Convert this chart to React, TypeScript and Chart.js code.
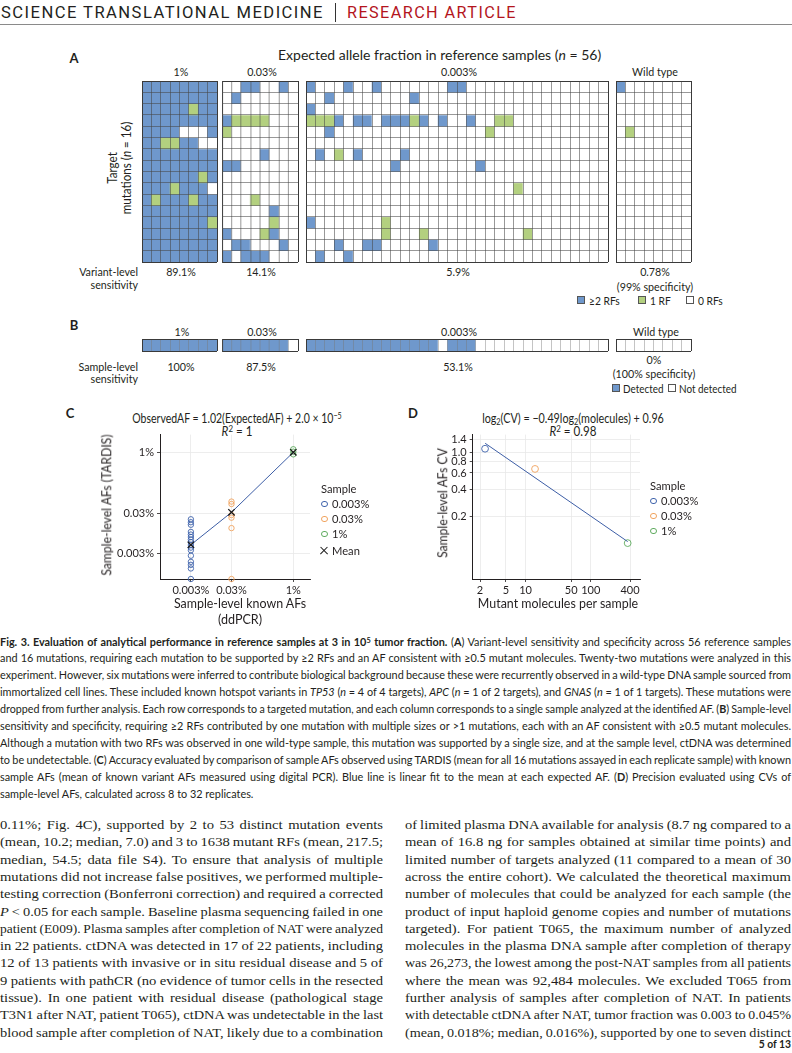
import React, { useEffect, useLayoutEffect, useRef } from 'react';
import { Chart, registerables } from 'chart.js';
Chart.register(...registerables);

/* ======================= DATA ======================= */
const groupLabels = ['1%', '0.03%', '0.003%', 'Wild type'];
const variantLevel = ['89.1%', '14.1%', '5.9%', '0.78%'];
const sampleLevel = ['100%', '87.5%', '53.1%', '0%'];

// Panel A: one string per target mutation (16 rows), one character per reference sample.
// 2 = ≥2 RFs, 1 = 1 RF, 0 = 0 RFs
const cellsA_1pct = [
  '22222222', '22222222', '22222122', '22222222', '22220002', '22112200', '22222222', '22222222',
  '22222212', '22212220', '21222122', '22222222', '22222221', '22222222', '22222222', '22222222',
];
const cellsA_003pct = [
  '00220020', '02000000', '00000000', '21111000', '10000000', '00000000', '00002000', '22000000',
  '00000000', '00000000', '00010000', '00000200', '00000100', '20001200', '02200020', '20222000',
];
const cellsA_0003pct = [
  '20002002000000022000000000000000',
  '00200000000200000000000000000000',
  '20000000000000000000000000000000',
  '11120220222120200200110000000000',
  '00200000000000000001000000000000',
  '00000000000000000000000000000000',
  '02010200002000000000000000000000',
  '00000000020000000020000000000000',
  '00000000000000000000000000000000',
  '00000000000000000000001000000000',
  '00000000000000000000000000000000',
  '00000000000000000000000000000000',
  '20000000100000000000000000000000',
  '00000000100010000000000100000000',
  '00020022000002000000000000000000',
  '02002000000000000000000000000000',
];
const cellsA_wild = [
  '20000000', '00000000', '00000000', '00000000', '01000000', '00000000', '00000000', '00000000',
  '00000000', '00000000', '00000000', '00000000', '00000000', '00000000', '00000000', '00000000',
];
// Panel B: 1 = detected, 0 = not detected
const cellsB_1pct = ['11111111'];
const cellsB_003pct = ['11111110'];
const cellsB_0003pct = ['11111111111111011100000000000000'];
const cellsB_wild = ['00000000'];

// Panel C (AF in %)
const cKnownAF = [0.003, 0.03, 1];
const cObs_0003 = [0.0219, 0.0185, 0.016, 0.0106, 0.0091, 0.0079, 0.0068, 0.0059, 0.005, 0.0043, 0.0037, 0.0027, 0.0019, 0.0016, 0.0013, 0];
const cObs_003 = [0.0605, 0.0526, 0.028, 0.024, 0.0132, 0];
const cObs_1 = [1.22, 1.06, 0.91];
const cMean = [0.00506, 0.0326, 1.022];
const cTicks = [0.003, 0.03, 1];
const cTickLabels = ['0.003%', '0.03%', '1%'];

// Panel D
const dMolecules = [2.39, 13.96, 368];
const dCV = [1.1, 0.664, 0.104];
const dFitMolecules = [2.4, 368];
const dFitCV = [1.26, 0.108];
const dXTicks = [2, 5, 10, 50, 100, 400];
const dYTicks = [0.2, 0.4, 0.6, 0.8, 1.0, 1.4];
const dYTickLabels = ['0.2', '0.4', '0.6', '0.8', '1.0', '1.4'];

/* ======================= STYLE ======================= */
const INK = '#231f20';
const FIG_FONT = "Lato, 'Noto Sans', sans-serif";
const SERIF = "'Liberation Serif', 'DejaVu Serif', serif";
const BLUE_CELL = '#6f98cc';
const GREEN_CELL = '#b3d07f';
const C_BLUE = '#3f63ab';
const C_ORANGE = '#f0a35e';
const C_GREEN = '#5fab5f';
const LINE_BLUE = '#3d5ea6';

const colsA = [141.7, 222.3, 306, 615.7];
const CELL_W = 9.45;

/* ======================= HEATMAP ======================= */
const PAD = 2;
function Heatmap({ rows, colors, left, top, height, inner, edge }: any) {
  const ref = useRef<HTMLCanvasElement>(null);
  const nCols = rows[0].length;
  const width = nCols * CELL_W;
  useEffect(() => {
    const labels = Array.from({ length: nCols }, (_, i) => `S${i + 1}`);
    const nRows = rows.length;
    const isEdgeX = (ctx: any) => ctx.type !== 'tick' || ctx.index === 0 || ctx.index >= nCols;
    const isEdgeY = (ctx: any) => !ctx.tick || ctx.tick.value === 0 || ctx.tick.value === nRows;
    const chart = new Chart(ref.current!, {
      type: 'bar',
      data: {
        labels,
        datasets: rows.map((row: string, r: number) => ({
          label: `Row ${r + 1}`,
          data: labels.map(() => 1),
          backgroundColor: row.split('').map((c) => colors[c]),
          borderWidth: 0,
          barPercentage: 1,
          categoryPercentage: 1,
          stack: 'cells',
        })),
      },
      options: {
        animation: false,
        responsive: false,
        events: [],
        layout: { padding: PAD },
        plugins: { legend: { display: false }, tooltip: { enabled: false } },
        scales: {
          x: {
            stacked: true, offset: true,
            afterFit: (s: any) => { s.height = 0; },
            grid: {
              z: 1, offset: true, drawTicks: false,
              color: (ctx: any) => (isEdgeX(ctx) ? edge : inner),
              lineWidth: (ctx: any) => (isEdgeX(ctx) ? 1 : 0.8),
            },
            border: { display: false },
            ticks: { display: false },
          },
          y: {
            stacked: true, reverse: true, min: 0, max: nRows,
            afterFit: (s: any) => { s.width = 0; },
            grid: {
              z: 1, drawTicks: false,
              color: (ctx: any) => (isEdgeY(ctx) ? edge : inner),
              lineWidth: (ctx: any) => (isEdgeY(ctx) ? 1 : 0.8),
            },
            border: { display: false },
            ticks: { display: false, stepSize: 1 },
          },
        },
      } as any,
    });
    return () => chart.destroy();
  }, []);
  return (
    <canvas
      ref={ref}
      width={width + 2 * PAD}
      height={height + 2 * PAD}
      style={{ position: 'absolute', left: left - PAD, top: top - PAD, width: width + 2 * PAD, height: height + 2 * PAD }}
    />
  );
}

/* ======================= SCATTER HELPERS ======================= */
function logAxis(min: number, max: number, ticks: number[], labels: string[], fit: number, horizontal: boolean) {
  return {
    type: 'logarithmic',
    min, max,
    afterBuildTicks: (s: any) => { s.ticks = ticks.map((v) => ({ value: v })); },
    afterFit: (s: any) => { if (horizontal) s.height = fit; else s.width = fit; },
    ticks: {
      autoSkip: false, maxRotation: 0, padding: horizontal ? 2 : 3, color: INK,
      font: { family: FIG_FONT, size: 11 },
      callback: (_v: any, i: number) => labels[i],
    },
    grid: { color: '#e8e8e8', lineWidth: 0.8, tickColor: INK, tickLength: 3, drawTicks: true },
    border: { display: true, color: INK, width: 1 },
  };
}

function hollow(color: string, radius: number) {
  return {
    pointRadius: radius,
    pointBorderColor: color,
    pointBackgroundColor: 'rgba(0,0,0,0)',
    pointBorderWidth: 0.9,
    borderColor: color,
    backgroundColor: 'rgba(0,0,0,0)',
    clip: false,
  };
}

const C_MIN_Y = 0.00071;
function ChartC() {
  const ref = useRef<HTMLCanvasElement>(null);
  useEffect(() => {
    const pts = (ys: number[], x: number) => ys.map((y) => ({ x, y: y > 0 ? y : C_MIN_Y }));
    const means = cKnownAF.map((x, i) => ({ x, y: cMean[i] }));
    const chart = new Chart(ref.current!, {
      type: 'scatter',
      data: {
        datasets: [
          { label: '0.003%', data: pts(cObs_0003, cKnownAF[0]), ...hollow(C_BLUE, 2.7), order: 4 },
          { label: '0.03%', data: pts(cObs_003, cKnownAF[1]), ...hollow(C_ORANGE, 2.7), order: 4 },
          { label: '1%', data: pts(cObs_1, cKnownAF[2]), ...hollow(C_GREEN, 2.7), order: 4 },
          { type: 'line', label: 'fit', data: means, borderColor: LINE_BLUE, borderWidth: 1, pointRadius: 0, showLine: true, fill: false, order: 2, clip: false },
          { label: 'Mean', data: means, pointStyle: 'crossRot', pointRadius: 4.5, pointBorderColor: '#1a1a1a', pointBorderWidth: 1.3, borderColor: '#1a1a1a', order: 1, clip: false },
        ] as any,
      },
      options: {
        animation: false, responsive: false, events: [],
        layout: { padding: { top: 5.7, right: 20, left: 0, bottom: 0 } },
        plugins: { legend: { display: false }, tooltip: { enabled: false } },
        scales: {
          x: logAxis(0.00052, 2.58, cTicks, cTickLabels, 25, true),
          y: logAxis(C_MIN_Y, 2.83, cTicks, cTickLabels, 60, false),
        },
      } as any,
    });
    return () => chart.destroy();
  }, []);
  return <canvas ref={ref} width={230} height={179} style={{ position: 'absolute', left: 100, top: 425, width: 230, height: 179 }} />;
}

function ChartD() {
  const ref = useRef<HTMLCanvasElement>(null);
  useEffect(() => {
    const colors = [C_BLUE, C_ORANGE, C_GREEN];
    const names = ['0.003%', '0.03%', '1%'];
    const chart = new Chart(ref.current!, {
      type: 'scatter',
      data: {
        datasets: [
          { type: 'line', label: 'fit', data: dFitMolecules.map((x, i) => ({ x, y: dFitCV[i] })), borderColor: LINE_BLUE, borderWidth: 1, pointRadius: 0, showLine: true, fill: false, order: 1, clip: false },
          ...names.map((n, i) => ({ label: n, data: [{ x: dMolecules[i], y: dCV[i] }], ...hollow(colors[i], 3.4), order: 2 })),
        ] as any,
      },
      options: {
        animation: false, responsive: false, events: [],
        layout: { padding: { top: 6.7, right: 20, left: 0, bottom: 0 } },
        plugins: { legend: { display: false }, tooltip: { enabled: false } },
        scales: {
          x: logAxis(1.545, 569, dXTicks, dXTicks.map(String), 25, true),
          y: logAxis(0.0424, 1.566, dYTicks, dYTickLabels, 52.7, false),
        },
      } as any,
    });
    return () => chart.destroy();
  }, []);
  return <canvas ref={ref} width={240} height={179} style={{ position: 'absolute', left: 420, top: 425, width: 240, height: 179 }} />;
}

/* ======================= TEXT HELPERS ======================= */
function T({ x, y, children, size = 11.5, align = 'center', weight = 400, color = INK, sx = 0.93, rotate = false, lh = 1, style = {} }: any) {
  const tx = align === 'center' ? '-50%' : align === 'right' ? '-100%' : '0';
  const origin = align === 'center' ? '50% 50%' : align === 'right' ? '100% 50%' : '0 50%';
  return (
    <div
      style={{
        position: 'absolute', left: x, top: y,
        transform: `translate(${tx}, -50%)${rotate ? ' rotate(-90deg)' : ''} scaleX(${sx})`,
        transformOrigin: origin,
        fontFamily: FIG_FONT, fontSize: size, fontWeight: weight, color,
        whiteSpace: 'nowrap', lineHeight: lh, textAlign: 'center', ...style,
      }}
    >
      {children}
    </div>
  );
}

function FitLine({ x, y, w, group, just = true, mode = '', font, size, weight = 400, color = INK, ls = 0, children }: any) {
  return (
    <div style={{ position: 'absolute', left: x, top: y - size / 2, width: w, height: size }}>
      <span
        data-fit="1" data-w={w} data-g={group} data-j={just ? '1' : '0'} data-mode={mode}
        style={{ display: 'inline-block', whiteSpace: 'pre', transformOrigin: '0 0', fontFamily: font, fontSize: size, fontWeight: weight, color, lineHeight: 1, letterSpacing: ls }}
      >
        {children}
      </span>
    </div>
  );
}

function Square({ x, y, color, size = 8 }: any) {
  return <div style={{ position: 'absolute', left: x, top: y - size / 2, width: size, height: size, background: color, border: '0.8px solid #555', boxSizing: 'border-box' }} />;
}
function Ring({ x, y, color, d = 6.6 }: any) {
  return <div style={{ position: 'absolute', left: x - d / 2, top: y - d / 2, width: d, height: d, borderRadius: '50%', border: `1px solid ${color}`, boxSizing: 'border-box' }} />;
}
function Cross({ x, y }: any) {
  const bar = (a: number) => (
    <div style={{ position: 'absolute', left: x - 5, top: y - 0.6, width: 10, height: 1.3, background: '#1a1a1a', transform: `rotate(${a}deg)` }} />
  );
  return <>{bar(45)}{bar(-45)}</>;
}

const sup = (s: string) => <sup style={{ fontSize: '0.68em', lineHeight: 0, verticalAlign: '0.45em' }}>{s}</sup>;
const sub = (s: string) => <sub style={{ fontSize: '0.68em', lineHeight: 0, verticalAlign: '-0.25em' }}>{s}</sub>;

/* ======================= TEXT CONTENT ======================= */
const captionLines: React.ReactNode[] = [
  <><b>Fig. 3. Evaluation of analytical performance in reference samples at 3 in 10{sup('5')} tumor fraction.</b> (<b>A</b>) Variant-level sensitivity and specificity across 56 reference samples</>,
  <>and 16 mutations, requiring each mutation to be supported by ≥2 RFs and an AF consistent with ≥0.5 mutant molecules. Twenty-two mutations were analyzed in this</>,
  <>experiment. However, six mutations were inferred to contribute biological background because these were recurrently observed in a wild-type DNA sample sourced from</>,
  <>immortalized cell lines. These included known hotspot variants in <i>TP53</i> (<i>n</i> = 4 of 4 targets), <i>APC</i> (<i>n</i> = 1 of 2 targets), and <i>GNAS</i> (<i>n</i> = 1 of 1 targets). These mutations were</>,
  <>dropped from further analysis. Each row corresponds to a targeted mutation, and each column corresponds to a single sample analyzed at the identified AF. (<b>B</b>) Sample-level</>,
  <>sensitivity and specificity, requiring ≥2 RFs contributed by one mutation with multiple sizes or &gt;1 mutations, each with an AF consistent with ≥0.5 mutant molecules.</>,
  <>Although a mutation with two RFs was observed in one wild-type sample, this mutation was supported by a single size, and at the sample level, ctDNA was determined</>,
  <>to be undetectable. (<b>C</b>) Accuracy evaluated by comparison of sample AFs observed using TARDIS (mean for all 16 mutations assayed in each replicate sample) with known</>,
  <>sample AFs (mean of known variant AFs measured using digital PCR). Blue line is linear fit to the mean at each expected AF. (<b>D</b>) Precision evaluated using CVs of</>,
  <>sample-level AFs, calculated across 8 to 32 replicates.</>,
];

const leftCol: React.ReactNode[] = [
  '0.11%; Fig. 4C), supported by 2 to 53 distinct mutation events',
  '(mean, 10.2; median, 7.0) and 3 to 1638 mutant RFs (mean, 217.5;',
  'median, 54.5; data file S4). To ensure that analysis of multiple',
  'mutations did not increase false positives, we performed multiple-',
  'testing correction (Bonferroni correction) and required a corrected',
  <><i>P</i> &lt; 0.05 for each sample. Baseline plasma sequencing failed in one</>,
  'patient (E009). Plasma samples after completion of NAT were analyzed',
  'in 22 patients. ctDNA was detected in 17 of 22 patients, including',
  '12 of 13 patients with invasive or in situ residual disease and 5 of',
  '9 patients with pathCR (no evidence of tumor cells in the resected',
  'tissue). In one patient with residual disease (pathological stage',
  'T3N1 after NAT, patient T065), ctDNA was undetectable in the last',
  'blood sample after completion of NAT, likely due to a combination',
];
const rightCol: React.ReactNode[] = [
  'of limited plasma DNA available for analysis (8.7 ng compared to a',
  'mean of 16.8 ng for samples obtained at similar time points) and',
  'limited number of targets analyzed (11 compared to a mean of 30',
  'across the entire cohort). We calculated the theoretical maximum',
  'number of molecules that could be analyzed for each sample (the',
  'product of input haploid genome copies and number of mutations',
  'targeted). For patient T065, the maximum number of analyzed',
  'molecules in the plasma DNA sample after completion of therapy',
  'was 26,273, the lowest among the post-NAT samples from all patients',
  'where the mean was 92,484 molecules. We excluded T065 from',
  'further analysis of samples after completion of NAT. In patients',
  'with detectable ctDNA after NAT, tumor fraction was 0.003 to 0.045%',
  '(mean, 0.018%; median, 0.016%), supported by one to seven distinct',
];

/* ======================= APP ======================= */
export default function App() {
  useLayoutEffect(() => {
    document.body.style.margin = '0';
    const run = () => {
      const els = Array.from(document.querySelectorAll<HTMLElement>('[data-fit]'));
      els.forEach((e) => { e.style.transform = ''; e.style.wordSpacing = ''; });
      const info = els.map((e) => ({
        e, w: e.getBoundingClientRect().width, t: +(e.dataset.w as string),
        g: e.dataset.g as string, j: e.dataset.j === '1', m: e.dataset.mode,
      }));
      const groups: Record<string, number[]> = {};
      info.forEach((i) => { if (i.j) (groups[i.g] = groups[i.g] || []).push(i.t / i.w); });
      const med: Record<string, number> = {};
      for (const g in groups) { const a = groups[g].sort((p, q) => p - q); med[g] = a[Math.floor(a.length / 2)]; }
      info.forEach((i) => {
        if (i.m === 'exact') { i.e.style.transform = `scaleX(${i.t / i.w})`; return; }
        const r = med[i.g] ?? 1;
        if (i.j) {
          const n = (i.e.textContent || '').split(' ').length - 1;
          let ws = n > 0 ? (i.t / r - i.w) / n : 0;
          if (ws < -0.5) ws = -0.5;
          const ri = i.t / (i.w + n * ws);
          i.e.style.wordSpacing = `${ws}px`;
          i.e.style.transform = `scaleX(${ri})`;
        } else {
          i.e.style.transform = `scaleX(${r})`;
        }
      });
    };
    run();
    (document as any).fonts?.ready?.then(run);
  }, []);

  const aCells = [cellsA_1pct, cellsA_003pct, cellsA_0003pct, cellsA_wild];
  const bCells = [cellsB_1pct, cellsB_003pct, cellsB_0003pct, cellsB_wild];
  const aColors = { '2': BLUE_CELL, '1': GREEN_CELL, '0': '#ffffff' };
  const bColors = { '1': BLUE_CELL, '0': '#ffffff' };
  const centers = colsA.map((l, i) => l + (aCells[i][0].length * CELL_W) / 2);

  return (
    <div style={{ position: 'relative', width: 792, height: 1053, overflow: 'hidden', background: '#fff' }}>
      {/* Header */}
      <FitLine x={1} y={12.5} w={323} group="h1" mode="exact" font="Roboto, sans-serif" size={17} ls={1.5}>SCIENCE TRANSLATIONAL MEDICINE</FitLine>
      <div style={{ position: 'absolute', left: 335, top: 3, width: 1, height: 19, background: '#333' }} />
      <FitLine x={347} y={12.5} w={170} group="h2" mode="exact" font="Roboto, sans-serif" size={17} ls={1.5} color="#b4151d">RESEARCH ARTICLE</FitLine>
      <div style={{ position: 'absolute', left: 0, top: 23.5, width: 792, height: 1, background: '#8a8a8a' }} />

      {/* Panel A */}
      <T x={74} y={58} size={13} weight={700} sx={1}>A</T>
      <T x={278} y={55} size={14} sx={1} align="left">Expected allele fraction in reference samples (<i>n</i> = 56)</T>
      {groupLabels.map((g, i) => <T key={'ga' + i} x={centers[i] + 1.5} y={72.3} size={11.5}>{g}</T>)}
      <T x={120} y={168} size={12.5} rotate lh={1.1}>Target<br />mutations (<i>n</i> = 16)</T>
      {aCells.map((rows, i) => (
        <Heatmap key={'ha' + i} rows={rows} colors={aColors} left={colsA[i]} top={80.7} height={181.6} inner="rgba(70,70,70,0.7)" edge="#3a3a3a" />
      ))}
      <T x={138} y={272} align="right">Variant-level</T>
      <T x={138} y={284.5} align="right">sensitivity</T>
      {variantLevel.map((v, i) => <T key={'va' + i} x={centers[i] + 1} y={272}>{v}</T>)}
      <T x={centers[3] + 1} y={286.5}>(99% specificity)</T>
      <Square x={577} y={300} color={BLUE_CELL} />
      <T x={589} y={300} align="left" size={11}>≥2 RFs</T>
      <Square x={638} y={300} color={GREEN_CELL} />
      <T x={650} y={300} align="left" size={11}>1 RF</T>
      <Square x={686} y={300} color="#fff" />
      <T x={698} y={300} align="left" size={11}>0 RFs</T>

      {/* Panel B */}
      <T x={74} y={325} size={13} weight={700} sx={1}>B</T>
      {groupLabels.map((g, i) => <T key={'gb' + i} x={centers[i] + 2} y={331.7} size={11.5}>{g}</T>)}
      {bCells.map((rows, i) => (
        <Heatmap key={'hb' + i} rows={rows} colors={bColors} left={colsA[i]} top={339} height={12} inner="rgba(120,120,120,0.55)" edge="#3a3a3a" />
      ))}
      <T x={138} y={366.7} align="right">Sample-level</T>
      <T x={138} y={378.5} align="right">sensitivity</T>
      {sampleLevel.slice(0, 3).map((v, i) => <T key={'sb' + i} x={centers[i] + 1} y={366.7}>{v}</T>)}
      <T x={centers[3]} y={359.5}>{sampleLevel[3]}</T>
      <T x={centers[3]} y={373.5}>(100% specificity)</T>
      <Square x={612} y={388} color={BLUE_CELL} />
      <T x={623} y={388} align="left" size={11} sx={0.9}>Detected</T>
      <Square x={668} y={388} color="#fff" />
      <T x={679} y={388} align="left" size={11} sx={0.9}>Not detected</T>

      {/* Panel C */}
      <T x={70} y={413} size={13} weight={700} sx={1}>C</T>
      <T x={237} y={419} size={12.5} sx={0.84}>ObservedAF = 1.02(ExpectedAF) + 2.0 × 10{sup('−5')}</T>
      <T x={237} y={432} size={12.5}><i>R</i>{sup('2')} = 1</T>
      <ChartC />
      <T x={106.7} y={505} size={13.5} rotate sx={0.9}>Sample-level AFs (TARDIS)</T>
      <T x={240} y={604} size={13.5} sx={0.92}>Sample-level known AFs</T>
      <T x={240} y={620} size={13.5}>(ddPCR)</T>
      <T x={321} y={489.3} size={12} align="left">Sample</T>
      <Ring x={324.3} y={504} color={C_BLUE} />
      <T x={331.7} y={504} size={12} align="left">0.003%</T>
      <Ring x={324.3} y={519} color={C_ORANGE} />
      <T x={331.7} y={519} size={12} align="left">0.03%</T>
      <Ring x={324.3} y={534} color={C_GREEN} />
      <T x={331.7} y={534} size={12} align="left">1%</T>
      <Cross x={324.3} y={551} />
      <T x={331.7} y={551} size={12} align="left">Mean</T>

      {/* Panel D */}
      <T x={413} y={413} size={13} weight={700} sx={1}>D</T>
      <T x={573} y={419} size={12.5} sx={0.86}>log{sub('2')}(CV) = −0.49log{sub('2')}(molecules) + 0.96</T>
      <T x={573} y={432} size={12.5}><i>R</i>{sup('2')} = 0.98</T>
      <ChartD />
      <T x={443.3} y={503} size={13.5} rotate sx={0.9}>Sample-level AFs CV</T>
      <T x={558} y={604} size={13.5} sx={0.92}>Mutant molecules per sample</T>
      <T x={650} y={486} size={12} align="left">Sample</T>
      <Ring x={653.3} y={501} color={C_BLUE} />
      <T x={660.7} y={501} size={12} align="left">0.003%</T>
      <Ring x={653.3} y={516} color={C_ORANGE} />
      <T x={660.7} y={516} size={12} align="left">0.03%</T>
      <Ring x={653.3} y={531} color={C_GREEN} />
      <T x={660.7} y={531} size={12} align="left">1%</T>

      {/* Caption */}
      {captionLines.map((l, i) => (
        <FitLine key={'cap' + i} x={0} y={637 + i * 16.9} w={791} group="cap" just={i < captionLines.length - 1} font={FIG_FONT} size={11}>{l}</FitLine>
      ))}

      {/* Body text */}
      {leftCol.map((l, i) => (
        <FitLine key={'lc' + i} x={0} y={821.5 + i * 17.3} w={383} group="body" font={SERIF} size={13}>{l}</FitLine>
      ))}
      {rightCol.map((l, i) => (
        <FitLine key={'rc' + i} x={405} y={821.5 + i * 17.3} w={386} group="body" font={SERIF} size={13}>{l}</FitLine>
      ))}

      {/* Footer */}
      <T x={791} y={1044} size={11.5} weight={700} align="right" sx={0.9}>5 of 13</T>
    </div>
  );
}
